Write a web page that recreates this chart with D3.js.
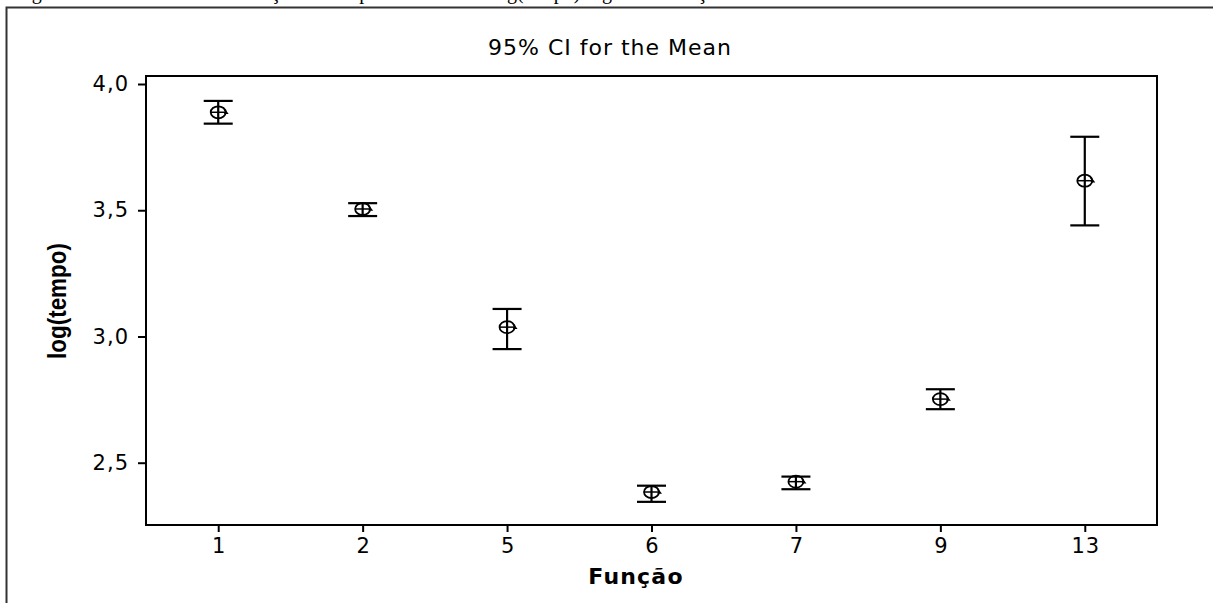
<!DOCTYPE html>
<html>
<head>
<meta charset="utf-8">
<script src="https://cdn.jsdelivr.net/npm/d3@7"></script>
<style>
  html, body { margin: 0; padding: 0; background: #fff; }
  svg { display: block; }
</style>
</head>
<body>
<svg id="chart" width="1213" height="603"></svg>
<script>
// ---- data ----
const categories = ["1", "2", "5", "6", "7", "9", "13"];
const means  = [3.888, 3.505, 3.037, 2.384, 2.425, 2.752, 3.617];
const lowers = [3.843, 3.477, 2.950, 2.345, 2.395, 2.712, 3.440];
const uppers = [3.933, 3.528, 3.109, 2.409, 2.445, 2.791, 3.791];
const yTicks = [2.5, 3.0, 3.5, 4.0];
const title = "95% CI for the Mean";
const xLabel = "Função";
const yLabel = "log(tempo)";
const caption = "Figura 3 – Intervalos de confiança de 95% para a média do log(tempo) segundo a função";

const svg = d3.select("#chart");
const W = 1213, H = 603;
const plot = { left: 146, right: 1157, top: 76, bottom: 525 };

// outer frame (figure border)
svg.append("path")
  .attr("d", `M6.5,${H + 5} L6.5,7.5 L${W + 5},7.5`)
  .attr("fill", "none").attr("stroke", "#333").attr("stroke-width", 2);

// caption above the frame (clipped by the top edge, as in the source)
svg.append("text")
  .attr("x", 15).attr("y", -1)
  .attr("font-family", "Liberation Serif, Times New Roman, serif")
  .attr("font-size", 20)
  .attr("fill", "#000")
  .text(caption);

const x = d3.scalePoint().domain(categories).range([plot.left, plot.right]).padding(0.5);
const y = d3.scaleLinear().domain([2.2533, 4.0317]).range([plot.bottom, plot.top]);

// plot box
svg.append("rect")
  .attr("x", plot.left).attr("y", plot.top)
  .attr("width", plot.right - plot.left).attr("height", plot.bottom - plot.top)
  .attr("fill", "none").attr("stroke", "#000").attr("stroke-width", 2);

const fmt = d => d3.format(".1f")(d).replace(".", ",");

const yAxis = svg.append("g")
  .attr("transform", `translate(${plot.left},0)`)
  .call(d3.axisLeft(y).tickValues(yTicks).tickFormat(fmt).tickSize(8).tickPadding(9));
const xAxis = svg.append("g")
  .attr("transform", `translate(0,${plot.bottom})`)
  .call(d3.axisBottom(x).tickSize(7).tickPadding(6));

[yAxis, xAxis].forEach(g => {
  g.select(".domain").remove();
  g.selectAll(".tick line").attr("stroke", "#000").attr("stroke-width", 2);
  g.selectAll(".tick text")
    .attr("font-family", "DejaVu Sans, Verdana, sans-serif")
    .attr("font-size", 21).attr("letter-spacing", 1).attr("fill", "#000");
});
xAxis.selectAll(".tick text").attr("dx", 0.5);

// title
svg.append("text")
  .attr("x", 610).attr("y", 55)
  .attr("text-anchor", "middle")
  .attr("font-family", "DejaVu Sans, Verdana, sans-serif")
  .attr("font-size", 22).attr("letter-spacing", 1).attr("fill", "#000")
  .text(title);

// axis labels
svg.append("text")
  .attr("x", 636).attr("y", 584)
  .attr("text-anchor", "middle")
  .attr("font-family", "DejaVu Sans, Verdana, sans-serif")
  .attr("font-weight", "bold")
  .attr("font-size", 22).attr("letter-spacing", 1.2).attr("fill", "#000")
  .text(xLabel);

svg.append("text")
  .attr("transform", `translate(66,301) rotate(-90)`)
  .attr("text-anchor", "middle")
  .attr("font-family", "Liberation Sans Narrow, Arial Narrow, sans-serif")
  .attr("font-weight", "bold")
  .attr("font-size", 25)
  .attr("textLength", 116).attr("lengthAdjust", "spacingAndGlyphs")
  .attr("fill", "#000")
  .text(yLabel);

// error bars
const data = categories.map((c, i) => ({ c, m: means[i], lo: lowers[i], hi: uppers[i] }));
const capW = 14.5;
const g = svg.append("g").attr("stroke", "#000").attr("fill", "none");
const item = g.selectAll("g.bar").data(data).join("g").attr("class", "bar");
item.append("line")
  .attr("x1", d => x(d.c)).attr("x2", d => x(d.c))
  .attr("y1", d => y(d.hi)).attr("y2", d => y(d.lo)).attr("stroke-width", 2.2);
item.append("line")
  .attr("x1", d => x(d.c) - capW).attr("x2", d => x(d.c) + capW)
  .attr("y1", d => y(d.hi)).attr("y2", d => y(d.hi)).attr("stroke-width", 2.2);
item.append("line")
  .attr("x1", d => x(d.c) - capW).attr("x2", d => x(d.c) + capW)
  .attr("y1", d => y(d.lo)).attr("y2", d => y(d.lo)).attr("stroke-width", 2.2);
// mean marker: circle with cross
item.append("ellipse")
  .attr("cx", d => x(d.c)).attr("cy", d => y(d.m))
  .attr("rx", 7.5).attr("ry", 6).attr("stroke-width", 1.8);
item.append("line")
  .attr("x1", d => x(d.c) - 7.5).attr("x2", d => x(d.c) + 7.5)
  .attr("y1", d => y(d.m)).attr("y2", d => y(d.m)).attr("stroke-width", 1.5);
item.append("path")
  .attr("d", d => { const cx = x(d.c), cy = y(d.m); return `M${cx + 6},${cy - 3} L${cx + 9},${cy + 1} L${cx + 6},${cy + 1}`; })
  .attr("stroke-width", 1.5);
</script>
</body>
</html>
